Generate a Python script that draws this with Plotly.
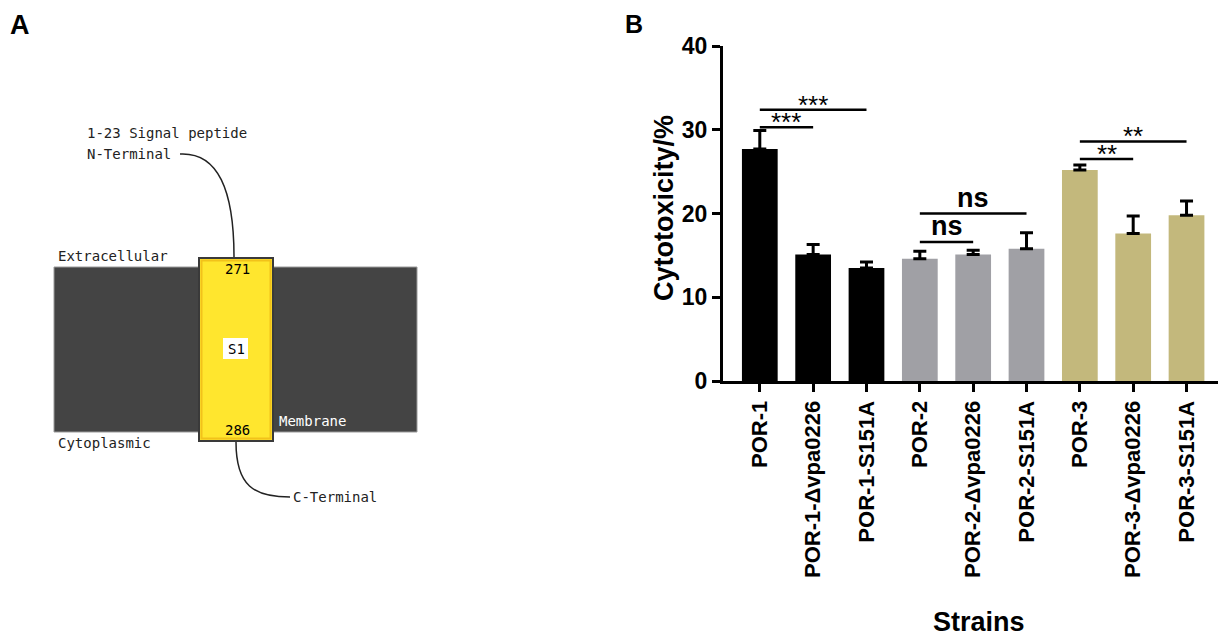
import plotly.graph_objects as go

# panel B data
strains = ["POR-1", "POR-1-Δvpa0226", "POR-1-S151A",
           "POR-2", "POR-2-Δvpa0226", "POR-2-S151A",
           "POR-3", "POR-3-Δvpa0226", "POR-3-S151A"]
cytotoxicity = [27.7, 15.1, 13.5, 14.6, 15.1, 15.8, 25.2, 17.6, 19.8]
sem = [2.2, 1.2, 0.7, 0.9, 0.5, 1.9, 0.6, 2.1, 1.7]
bar_colors = ["#000000"] * 3 + ["#a0a0a5"] * 3 + ["#c3b87c"] * 3

sig_left = [0, 0, 3, 3, 6, 6]
sig_right = [1, 2, 4, 5, 7, 8]
sig_height = [30.3, 32.4, 16.6, 20.0, 26.5, 28.6]
sig_label = ["***", "***", "ns", "ns", "**", "**"]

W, H = 1232, 638
OFF = 8  # page margin around the plot div
FONT = "Liberation Sans"
MONO = "DejaVu Sans Mono"


def fx(px):
    return (px - OFF) / W


def fy(py):
    return 1 - (py - OFF) / H


fig = go.Figure()

xs = list(range(len(strains)))
fig.add_trace(go.Bar(
    x=xs, y=cytotoxicity, width=0.67,
    marker=dict(color=bar_colors, line=dict(width=0)),
    error_y=dict(type="data", symmetric=False, array=sem,
                 arrayminus=[0] * len(sem), color="black",
                 thickness=3, width=6.5),
    showlegend=False, hoverinfo="skip",
))

for l, r, h in zip(sig_left, sig_right, sig_height):
    fig.add_trace(go.Scatter(
        x=[l, r], y=[h, h], mode="lines",
        line=dict(color="black", width=2.5),
        showlegend=False, hoverinfo="skip",
    ))

for l, r, h, lab in zip(sig_left, sig_right, sig_height, sig_label):
    star = lab.startswith("*")
    fig.add_annotation(
        x=(l + r) / 2, y=h, xref="x", yref="y", text=lab, showarrow=False,
        xanchor="center", yanchor="bottom", yshift=-12 if star else -1,
        font=dict(family=FONT, size=26 if star else 27, color="black",
                  weight="normal" if star else "bold"),
    )

# invisible anchor trace for the diagram axes
fig.add_trace(go.Scatter(x=[OFF], y=[OFF], xaxis="x2", yaxis="y2", mode="markers",
                         marker=dict(opacity=0), showlegend=False, hoverinfo="skip"))

# panel A: membrane topology diagram (page pixel coordinates)
fig.add_shape(type="rect", xref="x2", yref="y2", x0=54, x1=417, y0=267, y1=432,
              fillcolor="#444444", line=dict(color="#9a9a9a", width=1))
fig.add_shape(type="rect", xref="x2", yref="y2", x0=199, x1=273, y0=258, y1=441,
              fillcolor="#ffe62e", line=dict(color="#3a3a3a", width=2))
fig.add_shape(type="rect", xref="x2", yref="y2", x0=201.5, x1=270.5, y0=260.5, y1=438.5,
              fillcolor="rgba(0,0,0,0)", line=dict(color="#f2c21a", width=2))
fig.add_shape(type="rect", xref="x2", yref="y2", x0=223, x1=248, y0=338, y1=359,
              fillcolor="white", line=dict(width=0))
fig.add_shape(type="path", xref="x2", yref="y2",
              path="M 180,154 C 218,152 234,190 234,257",
              line=dict(color="#222222", width=1.5))
fig.add_shape(type="path", xref="x2", yref="y2",
              path="M 236,442 C 236,486 254,497 290,497",
              line=dict(color="#222222", width=1.5))

diagram_text = [
    ("1-23 Signal peptide", 85, 133, "left", "#222222"),
    ("N-Terminal", 85, 154, "left", "#222222"),
    ("Extracellular", 56, 256, "left", "#222222"),
    ("Cytoplasmic", 56, 443, "left", "#222222"),
    ("Membrane", 277, 421, "left", "white"),
    ("C-Terminal", 291, 497, "left", "#222222"),
    ("271", 237, 269, "center", "black"),
    ("286", 237, 430, "center", "black"),
    ("S1", 236, 349, "center", "black"),
]
for txt, x, y, anc, col in diagram_text:
    fig.add_annotation(x=x, y=y, xref="x2", yref="y2", text=txt, showarrow=False,
                       xanchor=anc, yanchor="middle",
                       font=dict(family=MONO, size=14, color=col))

# panel letters and axis titles
labels = [
    ("A", 20, 25, 0, 27),
    ("B", 634, 24, 0, 25),
    ("Cytotoxicity/%", 664, 208, -90, 27),
    ("Strains", 979, 622, 0, 27),
]
for txt, x, y, ang, size in labels:
    fig.add_annotation(x=fx(x), y=fy(y), xref="paper", yref="paper", text=txt,
                       textangle=ang, showarrow=False, xanchor="center", yanchor="middle",
                       font=dict(family=FONT, size=size, color="black", weight="bold"))

fig.update_layout(
    width=W, height=H,
    margin=dict(l=0, r=0, t=0, b=0, pad=0, autoexpand=False),
    paper_bgcolor="white", plot_bgcolor="white",
    showlegend=False,
    xaxis=dict(domain=[fx(723), fx(1218)], range=[-0.69, 8.59], anchor="y",
               tickmode="array", tickvals=xs, ticktext=strains, tickangle=-90,
               showline=True, linecolor="black", linewidth=3,
               ticks="outside", ticklen=8, tickwidth=3, tickcolor="black",
               tickfont=dict(family=FONT, size=22, color="black", weight="bold"),
               showgrid=False, zeroline=False, automargin=False),
    yaxis=dict(domain=[fy(381), fy(46)], range=[0, 40], anchor="x",
               tickmode="array", tickvals=[0, 10, 20, 30, 40],
               showline=True, linecolor="black", linewidth=3,
               ticks="outside", ticklen=8, tickwidth=3, tickcolor="black",
               tickfont=dict(family=FONT, size=23, color="black", weight="bold"),
               showgrid=False, zeroline=False, automargin=False),
    xaxis2=dict(domain=[0, 440 / W], range=[OFF, 440 + OFF], anchor="y2", visible=False,
                automargin=False),
    yaxis2=dict(domain=[0, 1], range=[H + OFF, OFF], anchor="x2", visible=False,
                automargin=False),
)

fig.write_html("out.html")
